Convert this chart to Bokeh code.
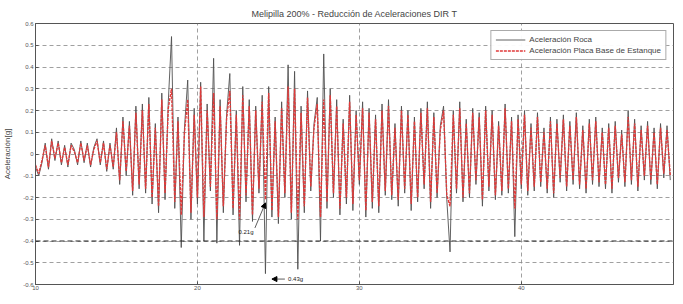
from bokeh.plotting import figure
from bokeh.models import Range1d, FixedTicker, Legend, LegendItem, Arrow, NormalHead, Span, Label
from bokeh.embed import file_html
from bokeh.resources import INLINE
import numpy as np

t0 = 10.0
dt = 0.2

accel_placa = [
    -0.05, -0.09, -0.03, 0.04, -0.06, 0.06, -0.02, 0.05, -0.04, 0.03, -0.05, 0.04, 0.01, -0.04, 0.05, -0.03, 0.04, -0.05, 0.02, 0.06, -0.04, 0.05, -0.07, 0.04, -0.06,
    0.10, -0.12, 0.15, -0.08, 0.13, -0.17, 0.19, -0.14, 0.20, -0.16,
    0.23, -0.20, 0.12, -0.24, 0.25, -0.18, 0.21,
    0.30, -0.22, 0.15, -0.28, 0.10, 0.25, -0.27, 0.18, -0.20,
    0.31, -0.29, 0.20, -0.15, 0.28, -0.30, 0.22, -0.24, 0.16, 0.29,
    -0.25, 0.18, -0.30, 0.27, -0.19, 0.22, -0.28, 0.20, -0.16, 0.24, -0.21, 0.28,
    -0.26, 0.15, -0.29, 0.21, -0.18, 0.31, -0.27, 0.30, -0.30, 0.19, -0.24, 0.26, -0.15, 0.12, 0.23, -0.29, 0.25, -0.22,
    0.27, -0.18, 0.22, -0.25, 0.14, -0.20, 0.24, -0.23, 0.18, -0.12, 0.21, -0.26, 0.19, -0.22, 0.16, -0.24, 0.20, -0.17,
    0.22, -0.19, 0.12, -0.21, 0.20, -0.16, 0.18, -0.23, 0.15, -0.20, 0.19, -0.14, 0.21, -0.22, 0.17, -0.18, 0.11, 0.20, -0.19,
    -0.24, 0.18, -0.16, 0.21, -0.20, 0.14, -0.18, 0.19, -0.12, 0.17, -0.21, 0.20, -0.15, 0.18, -0.19, 0.13, -0.17, 0.21, -0.16, 0.15,
    -0.25, 0.16, -0.14, 0.18, -0.17, 0.12, -0.15, 0.17, -0.13, 0.10, -0.16, 0.15, -0.18, 0.14, -0.11, 0.16, -0.15, 0.13, -0.12, 0.17, -0.14, 0.11, -0.16,
    0.14, -0.12, 0.15, -0.13, 0.10, -0.14, 0.12, -0.16, 0.13, -0.11, 0.09, -0.13, 0.17, -0.12, 0.14, -0.15, 0.11, -0.10, 0.13, -0.12, 0.10, -0.14, 0.12, -0.09, 0.11, -0.10,
]

accel_roca = [
    -0.06, -0.10, -0.04, 0.05, -0.07, 0.07, -0.03, 0.06, -0.05, 0.04, -0.06, 0.05, 0.02, -0.05, 0.06, -0.04, 0.05, -0.06, 0.03, 0.07, -0.05, 0.06, -0.08, 0.05, -0.07,
    0.12, -0.14, 0.17, -0.10, 0.15, -0.19, 0.22, -0.16, 0.23, -0.18,
    0.26, -0.23, 0.14, -0.27, 0.28, -0.21, 0.24,
    0.54, -0.25, 0.17, -0.43, 0.12, 0.34, -0.30, 0.21, -0.23,
    0.33, -0.40, 0.23, -0.17, 0.44, -0.41, 0.25, -0.27, 0.18, 0.37,
    -0.28, 0.20, -0.42, 0.31, -0.22, 0.25, -0.31, 0.22, -0.18, 0.27, -0.55, 0.31,
    -0.29, 0.17, -0.32, 0.24, -0.20, 0.41, -0.30, 0.38, -0.53, 0.22, -0.27, 0.29, -0.17, 0.14, 0.26, -0.40, 0.46, -0.25,
    0.30, -0.20, 0.25, -0.28, 0.16, -0.23, 0.27, -0.26, 0.20, -0.14, 0.24, -0.29, 0.21, -0.25, 0.18, -0.27, 0.23, -0.19,
    0.25, -0.21, 0.14, -0.24, 0.22, -0.18, 0.20, -0.26, 0.17, -0.22, 0.21, -0.16, 0.24, -0.25, 0.19, -0.20, 0.13, 0.22, -0.21,
    -0.45, 0.20, -0.18, 0.24, -0.22, 0.16, -0.20, 0.21, -0.14, 0.19, -0.24, 0.22, -0.17, 0.20, -0.21, 0.15, -0.19, 0.23, -0.18, 0.17,
    -0.38, 0.18, -0.16, 0.20, -0.19, 0.14, -0.17, 0.19, -0.15, 0.12, -0.18, 0.17, -0.20, 0.16, -0.13, 0.18, -0.17, 0.15, -0.14, 0.19, -0.16, 0.13, -0.18,
    0.16, -0.14, 0.17, -0.15, 0.12, -0.16, 0.14, -0.18, 0.15, -0.13, 0.11, -0.15, 0.20, -0.14, 0.16, -0.17, 0.13, -0.12, 0.15, -0.14, 0.12, -0.16, 0.14, -0.11, 0.13, -0.12,
]

x_ticks = [10, 20, 30, 40]
y_ticks = [0.6, 0.5, 0.4, 0.3, 0.2, 0.1, 0.0, -0.1, -0.2, -0.3, -0.4, -0.5, -0.6]
y_tick_labels = ["0.6", "0.5", "0.4", "0.3", "0.2", "0.1", "0", "-0.1", "-0.2", "-0.3", "-0.4", "-0.5", "-0.6"]

title_text = "Melipilla 200% - Reducción de Aceleraciones DIR T"
legend_labels = ["Aceleración Roca", "Aceleración Placa Base de Estanque"]

t = t0 + dt * np.arange(len(accel_roca))

FONT = "Liberation Sans"

p = figure(width=675, height=296, output_backend="svg", toolbar_location=None,
           x_range=Range1d(10, 49.4), y_range=Range1d(-0.6, 0.6),
           title=title_text, min_border_left=32, min_border_right=2,
           min_border_bottom=12, min_border_top=23)

p.title.align = "center"
p.title.text_font = FONT
p.title.text_font_size = "9px"
p.title.text_font_style = "normal"
p.title.text_color = "#444444"
p.title.offset = 0

p.background_fill_color = "white"
p.outline_line_color = "#555555"
p.outline_line_width = 1

for ax in (p.xaxis[0], p.yaxis[0]):
    ax.major_label_text_font = FONT
    ax.major_label_text_font_size = "6px"
    ax.major_label_text_color = "#555555"
    ax.axis_line_color = "#555555"
    ax.major_tick_line_color = "#555555"
    ax.major_tick_in = 3
    ax.major_tick_out = 0
    ax.minor_tick_line_color = None
    ax.major_label_standoff = 2

p.xaxis.ticker = FixedTicker(ticks=x_ticks)
p.yaxis.ticker = FixedTicker(ticks=y_ticks)
p.yaxis.major_label_overrides = {v: s for v, s in zip(y_ticks, y_tick_labels)}
p.xaxis.major_label_standoff = 1

p.yaxis.axis_label = "Aceleración[g]"
p.yaxis.axis_label_text_font = FONT
p.yaxis.axis_label_text_font_size = "8px"
p.yaxis.axis_label_text_font_style = "normal"
p.yaxis.axis_label_text_color = "#444444"
p.yaxis.axis_label_standoff = 8

p.xgrid.grid_line_color = "#888888"
p.xgrid.grid_line_dash = "4 3"
p.xgrid.grid_line_width = 0.8
p.ygrid.grid_line_color = "#888888"
p.ygrid.grid_line_dash = "4 3"
p.ygrid.grid_line_width = 0.8

p.add_layout(Span(location=-0.4, dimension="width", line_color="#222222",
                  line_dash="5 3", line_width=1))

r_roca = p.line(t, accel_roca, line_color="#505050", line_width=0.9)
r_placa = p.line(t, accel_placa, line_color="#e03a3a", line_width=1.4, line_dash="3 1")

legend = Legend(items=[LegendItem(label=legend_labels[0], renderers=[r_roca]),
                       LegendItem(label=legend_labels[1], renderers=[r_placa])],
                location="top_right")
legend.label_text_font = FONT
legend.label_text_font_size = "8px"
legend.label_text_color = "#444444"
legend.label_height = 9
legend.glyph_height = 9
legend.glyph_width = 30
legend.spacing = 2
legend.padding = 4
legend.margin = 7
legend.border_line_color = "#555555"
legend.border_line_width = 1
legend.label_standoff = 4
p.add_layout(legend)

p.add_layout(Arrow(end=NormalHead(size=5, fill_color="black", line_color="black"),
                   x_start=23.55, y_start=-0.34, x_end=24.2, y_end=-0.225,
                   line_color="#333333", line_width=0.8))
p.add_layout(Label(x=23.0, y=-0.36, text="0.21g", text_font=FONT, text_font_size="6px",
                   text_color="#222222", text_align="center", text_baseline="middle"))

p.add_layout(Arrow(end=NormalHead(size=5, fill_color="black", line_color="black"),
                   x_start=25.4, y_start=-0.575, x_end=24.6, y_end=-0.575,
                   line_color="#333333", line_width=0.8))
p.add_layout(Label(x=25.6, y=-0.575, text="0.43g", text_font=FONT, text_font_size="6px",
                   text_color="#222222", text_align="left", text_baseline="middle"))

open("out.html", "w").write(file_html(p, INLINE))
